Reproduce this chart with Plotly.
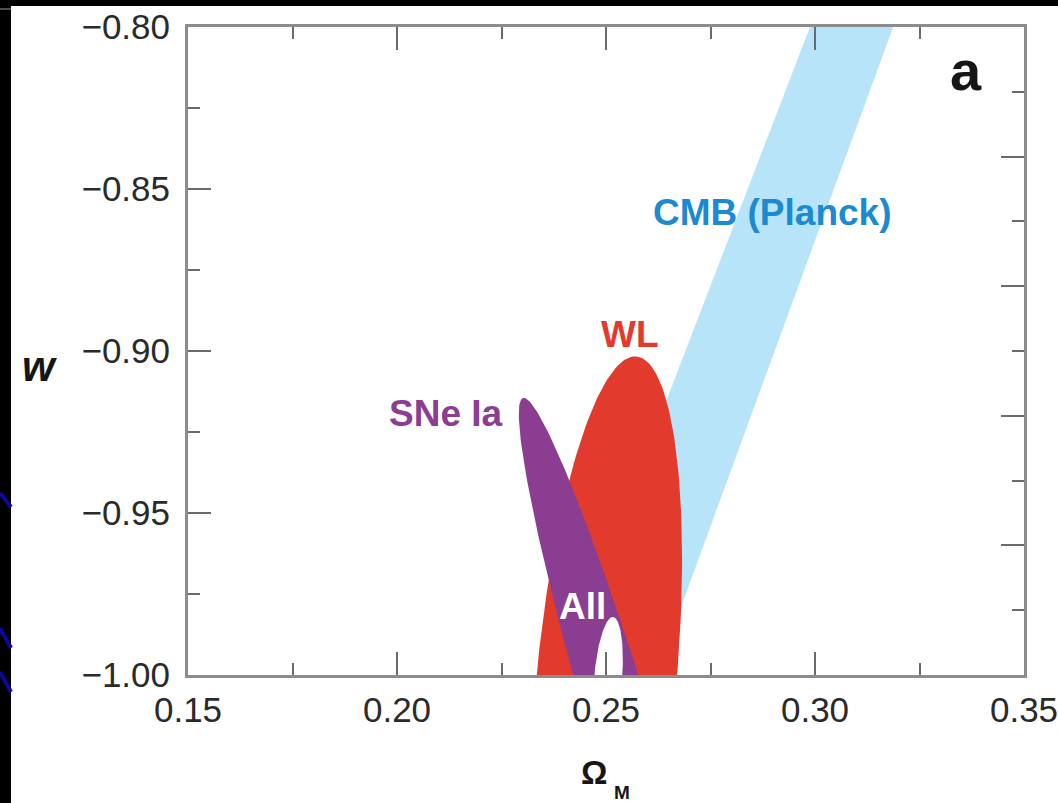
import numpy as np
import plotly.graph_objects as go

# ---- axis extents and ticks ---------------------------------------------
omega_range = [0.15, 0.35]
w_range = [-1.00, -0.80]
omega_ticks = [0.15, 0.20, 0.25, 0.30, 0.35]
w_ticks = [-1.00, -0.95, -0.90, -0.85, -0.80]

# ---- CMB (Planck) degeneracy band: corner points (Omega_M, w) -----------
cmb_omega = [0.2392, 0.2988, 0.3187, 0.2620]
cmb_w = [-1.00, -0.80, -0.80, -1.00]

# ---- confidence ellipses: centre, semi-major and semi-minor vectors -----
wl_center = [0.2500, -1.0031]
wl_major = [0.0073, 0.1014]
wl_minor = [0.01667, -0.00201]

sne_center = [0.25742, -1.03272]
sne_major = [-0.02727, 0.11821]
sne_minor = [0.00749, 0.00287]

all_center = [0.25048, -1.00154]
all_major = [0.0012, 0.01944]
all_minor = [0.00335, -0.00034]

# ---- labels ---------------------------------------------------------------
region_labels = ["CMB (Planck)", "WL", "SNe Ia", "All"]
label_omega = [0.2897, 0.2557, 0.2117, 0.2443]
label_w = [-0.8574, -0.8948, -0.9194, -0.9790]
label_colors = ["#1b8ad0", "#e23b2e", "#8b3d92", "#ffffff"]

FONT = "Liberation Sans, Arial, Helvetica, sans-serif"
W, H = 1058, 803
L, R, T, B = 188, 1024, 27, 675   # plot-area edges in pixels


def ellipse(center, major, minor, n=240):
    t = np.linspace(0, 2 * np.pi, n)
    x = center[0] + major[0] * np.cos(t) + minor[0] * np.sin(t)
    y = center[1] + major[1] * np.cos(t) + minor[1] * np.sin(t)
    return x, y


def px(p):
    return (p - L) / (R - L)


def py(p):
    return (B - p) / (B - T)


fig = go.Figure()

fig.add_trace(go.Scatter(x=cmb_omega + [cmb_omega[0]], y=cmb_w + [cmb_w[0]],
                         mode="lines", fill="toself", fillcolor="#b7e4f8",
                         line=dict(width=0), hoverinfo="skip", showlegend=False))

for c, mj, mn, col in [(wl_center, wl_major, wl_minor, "#e23b2e"),
                       (sne_center, sne_major, sne_minor, "#8b3d92"),
                       (all_center, all_major, all_minor, "#ffffff")]:
    ex, ey = ellipse(c, mj, mn)
    fig.add_trace(go.Scatter(x=ex, y=ey, mode="lines", fill="toself",
                             fillcolor=col, line=dict(width=0),
                             hoverinfo="skip", showlegend=False))

# empty trace that carries the right-hand tick axis
fig.add_trace(go.Scatter(x=[], y=[], yaxis="y2", showlegend=False))

for txt, xo, yw, col in zip(region_labels, label_omega, label_w, label_colors):
    fig.add_annotation(x=xo, y=yw, xref="x", yref="y", text=f"<b>{txt}</b>",
                       showarrow=False, xanchor="center", yanchor="middle",
                       font=dict(family=FONT, size=37, color=col))


def paper_text(x, y, text, size):
    fig.add_annotation(x=px(x), y=py(y), xref="paper", yref="paper",
                       text=text, showarrow=False,
                       xanchor="center", yanchor="middle",
                       font=dict(family=FONT, size=size, color="#161616"))


paper_text(966, 71, "<b>a</b>", 56)
# axis titles
paper_text(39, 366, "<b><i>w</i></b>", 42)
paper_text(594, 772, "<b>Ω</b>", 33)
paper_text(622, 792, "<b>M</b>", 19)

# dark slide border and decoration
shapes = [
    dict(type="rect", xref="paper", yref="paper", x0=px(0), x1=px(11),
         y0=py(803), y1=py(0), fillcolor="black", line=dict(width=0)),
    dict(type="rect", xref="paper", yref="paper", x0=px(0), x1=px(1058),
         y0=py(6), y1=py(0), fillcolor="black", line=dict(width=0)),
    dict(type="line", xref="paper", yref="paper", x0=px(0), x1=px(11),
         y0=py(9), y1=py(9), line=dict(color="#9a9a9a", width=1)),
]
for y0, y1 in [(493, 507), (628, 648), (672, 692)]:
    shapes.append(dict(type="line", xref="paper", yref="paper",
                       x0=px(0), x1=px(11), y0=py(y0), y1=py(y1),
                       line=dict(color="#0a0a9a", width=4)))

line_col = "#8c8c8c"
tick_col = "#6a6a6a"
tick_font = dict(family=FONT, size=35, color="#2a2a2a")

fig.update_layout(
    width=W, height=H,
    margin=dict(l=L, r=W - R, t=T, b=H - B, autoexpand=False),
    paper_bgcolor="white", plot_bgcolor="white",
    shapes=shapes,
    xaxis=dict(range=omega_range, tickvals=omega_ticks, tickformat=".2f",
               ticks="inside", ticklen=23, tickwidth=2, tickcolor=tick_col,
               showline=True, linecolor=line_col, linewidth=3, mirror="ticks",
               minor=dict(tick0=0.15, dtick=0.025, ticks="inside", ticklen=12,
                          tickwidth=2, tickcolor=tick_col),
               showgrid=False, zeroline=False, tickfont=tick_font,
               ticklabelstandoff=2, ticklabeloverflow="allow",
               automargin=False),
    yaxis=dict(range=w_range, tickvals=w_ticks, tickformat=".2f",
               ticks="inside", ticklen=23, tickwidth=2, tickcolor=tick_col,
               showline=True, linecolor=line_col, linewidth=3,
               minor=dict(tick0=-1.0, dtick=0.025, ticks="inside", ticklen=12,
                          tickwidth=2, tickcolor=tick_col),
               showgrid=False, zeroline=False, tickfont=tick_font,
               ticklabelstandoff=8, automargin=False),
    yaxis2=dict(range=w_range, overlaying="y", side="right", anchor="x",
                tick0=-1.0, dtick=0.04, ticks="inside", ticklen=23,
                tickwidth=2, tickcolor=tick_col, showticklabels=False,
                showline=True, linecolor=line_col, linewidth=3,
                minor=dict(tick0=-1.0, dtick=0.02, ticks="inside", ticklen=12,
                           tickwidth=2, tickcolor=tick_col),
                showgrid=False, zeroline=False, automargin=False),
)

fig.write_html("out.html")
